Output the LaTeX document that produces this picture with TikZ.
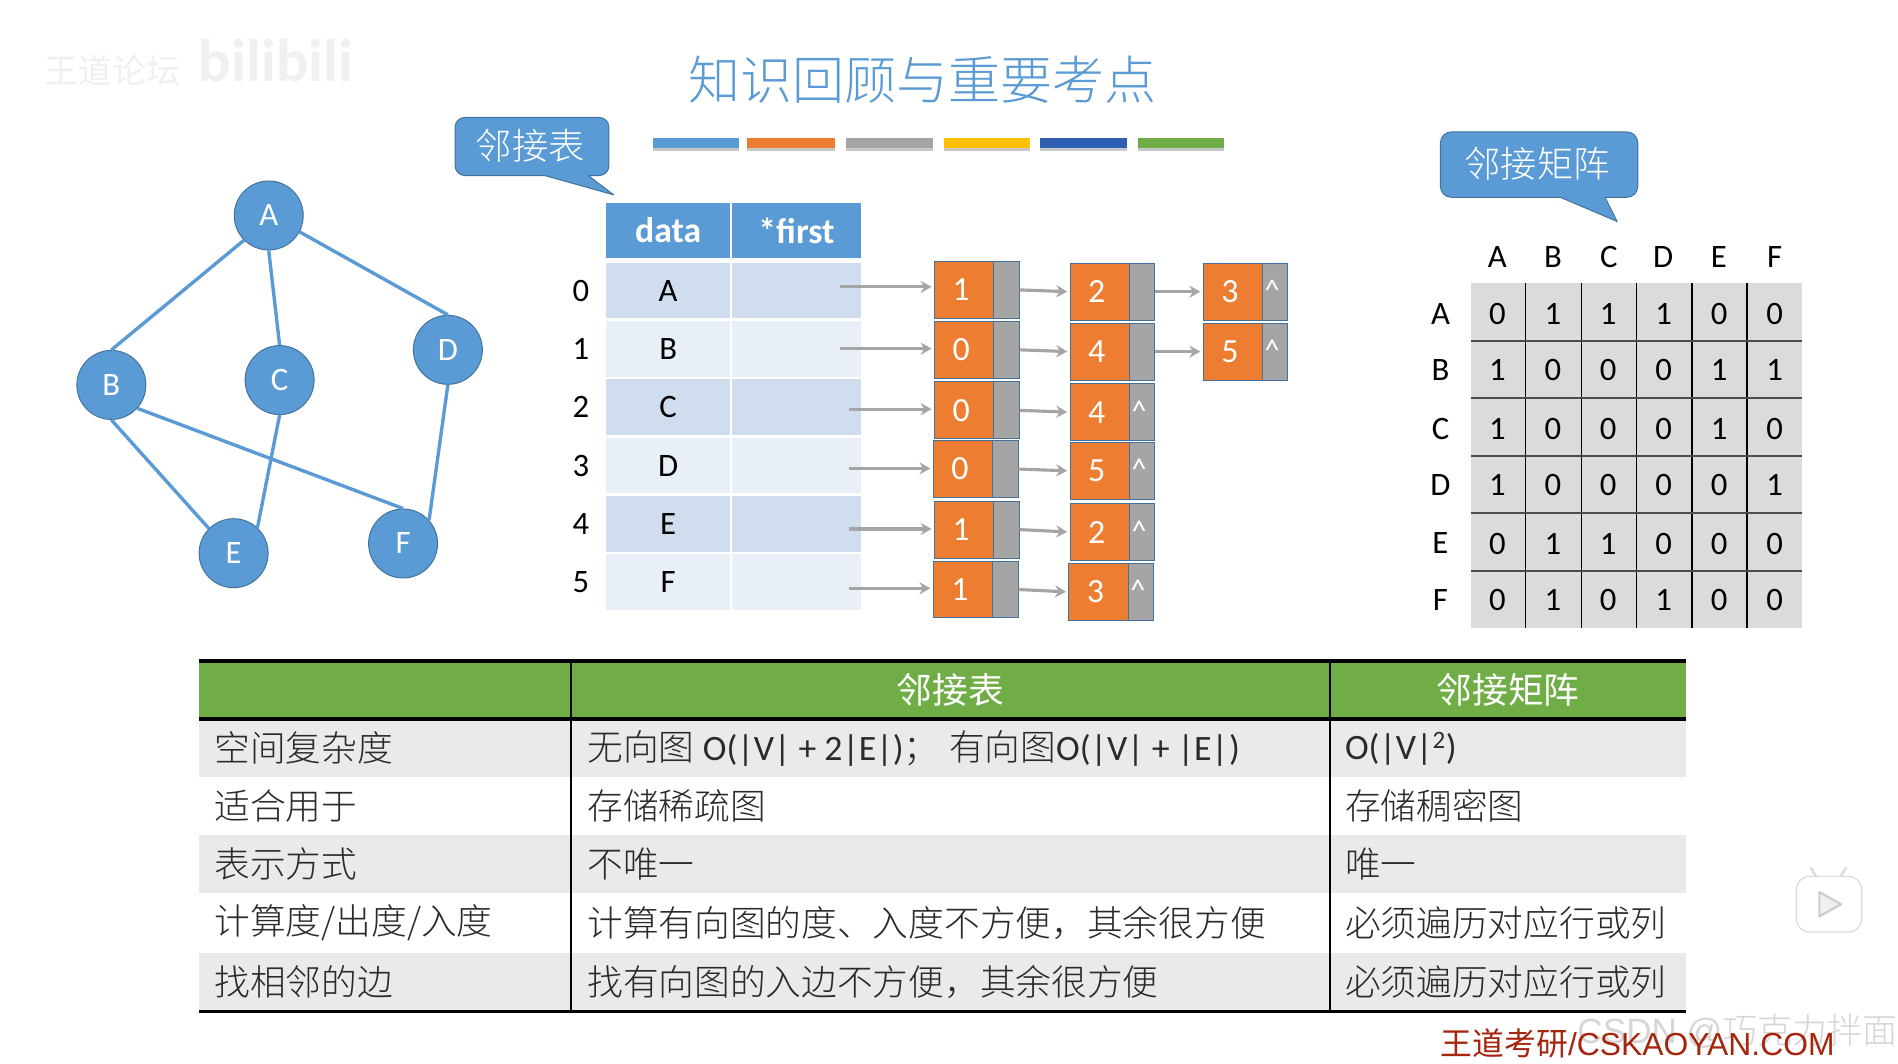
\documentclass[tikz,border=0pt]{standalone}
\usepackage{fontspec}
\usetikzlibrary{arrows.meta,calc}
\setmainfont{Carlito}
\newfontfamily\cjk{Noto Sans CJK SC}[Scale=1]
\newfontfamily\cjkl{Noto Sans CJK SC Light}
\newfontfamily\arialf{Liberation Sans}
\definecolor{tblue}{HTML}{5B9BD5}
\definecolor{tedge}{HTML}{41719C}
\definecolor{torange}{HTML}{ED7D31}
\definecolor{tgray}{HTML}{A5A5A5}
\definecolor{tgreen}{HTML}{70AD47}
\definecolor{rowa}{HTML}{CFDDEE}
\definecolor{rowb}{HTML}{E9EFF7}
\definecolor{mcell}{HTML}{DBDBDB}
\definecolor{stripe}{HTML}{EAEAEA}
\definecolor{ink}{HTML}{2A2A2A}
\definecolor{foot}{HTML}{A6250F}
\definecolor{tyellow}{HTML}{FFC000}
\definecolor{tbar}{HTML}{2F5FB3}
\tikzset{
  x=1pt,y=-1pt,
  fs/.style={font=\fontsize{#1}{#1}\selectfont},
  vertex/.style={circle,fill=tblue,draw=tedge,line width=.8pt,minimum size=57pt,inner sep=0pt,text=white,fs=27},
  gedge/.style={draw=tblue,line width=2.8pt},
  callout/.style={fill=tblue,draw=tedge,line width=.8pt,line join=round},
  calltext/.style={text=white,fs=30,font=\fontsize{30}{30}\selectfont\cjkl},
  headcell/.style={fill=tblue,text=white,minimum height=45pt,inner sep=0pt,font=\fontsize{29.5}{29.5}\selectfont\bfseries},
  datacell/.style={minimum height=46pt,inner sep=0pt,text=black,fs=27},
  plainlabel/.style={text=black,fs=27,inner sep=0pt},
  orangecell/.style={fill=torange,draw=tedge,line width=.8pt,minimum width=49pt,minimum height=47pt,inner sep=0pt,text=white,fs=28},
  graycell/.style={fill=tgray,draw=tedge,line width=.8pt,minimum width=21pt,minimum height=47pt,inner sep=0pt,text=white,fs=25},
  ptr/.style={draw=tgray,line width=2.6pt,-{Stealth[length=9pt,width=10pt]},shorten >=2pt},
  bar/.style={minimum height=8pt,inner sep=0pt},
  mval/.style={text=black,fs=27,inner sep=0pt},
  ttext/.style={anchor=west,text=ink,inner sep=0pt,font=\fontsize{29.5}{29.5}\selectfont\cjkl},
  thead/.style={text=white,inner sep=0pt,font=\fontsize{29.5}{29.5}\selectfont\cjk},
}
\newcommand\lnode[5]{%
  \node[orangecell] (#1o) at ({#2+24.5},#3) {\hspace*{-5pt}#4};
  \node[graycell] (#1g) at ({#2+59.5},#3) {#5};}
\newcommand\hatmark{\hspace*{-5pt}\raisebox{2pt}{\textasciicircum}}
\begin{document}
\begin{tikzpicture}
\useasboundingbox (0,0) rectangle (1568,879);
\fill[white] (0,0) rectangle (1568,879);

% faint platform marks
\node[text=black!6,font=\fontsize{28}{28}\selectfont\cjk,inner sep=0pt] (wm1) at (93,58) {王道论坛};
\node[text=black!6,font=\fontsize{50}{50}\selectfont\bfseries,inner sep=0pt] (wm2) at (228,50) {bilibili};

% title and colour bars
\node[text=tblue,font=\fontsize{43}{43}\selectfont\cjkl,inner sep=0pt] (title) at (762,66) {知识回顾与重要考点};
\foreach \na/\xa/\wa/\col in {b1/575/71/tblue,b2/653.5/73/torange,b3/734.5/72/tgray,b4/815/71/tyellow,b5/895/72/tbar,b6/976/71/tgreen}{
  \fill[black!22] ({\xa-\wa/2},120) rectangle ({\xa+\wa/2},124.5);
  \node[bar,fill=\col,minimum width=\wa pt] (\na) at (\xa,118) {};
}

% graph
\node[vertex] (A) at (222,178) {A};
\node[vertex] (B) at (92,318) {B};
\node[vertex] (C) at (231,314) {C};
\node[vertex] (D) at (370,289) {D};
\node[vertex] (E) at (193,457) {E};
\node[vertex] (F) at (333,449) {F};
\draw[gedge] (A.225)--(B.north);
\draw[gedge] (A.south)--(C.north);
\draw[gedge] (A.-28)--(D.north);
\draw[gedge] (B.south)--(E.135);
\draw[gedge] (B.-42)--(F.north);
\draw[gedge] (C.south)--(E.47);
\draw[gedge] (D.south)--(F.42);

% callouts
\draw[callout] (384,97) -- (495,97) to[out=0,in=90] (503,105) -- (503,137) to[out=-90,in=0] (495,145) -- (486,145) -- (507,161) -- (450,145) -- (384,145) to[out=180,in=-90] (376,137) -- (376,105) to[out=90,in=180] cycle;
\node[calltext] (ct1) at (438,120) {邻接表};
\draw[callout] (1199,109) -- (1344,109) to[out=0,in=90] (1353,118) -- (1353,154) to[out=-90,in=0] (1344,163) -- (1326,163) -- (1336,183) -- (1289,163) -- (1199,163) to[out=180,in=-90] (1190,154) -- (1190,118) to[out=90,in=180] cycle;
\node[calltext] (ct2) at (1270,135) {邻接矩阵};

% vertex table
\node[headcell,minimum width=102pt] (hd) at (552,190.5) {data};
\node[headcell,minimum width=106pt] (hf) at (658,190.5) {*first};
\foreach \i/\yy/\lab/\col in {0/240/A/rowa,1/288.2/B/rowb,2/336.4/C/rowa,3/384.6/D/rowb,4/432.8/E/rowa,5/481/F/rowb}{
  \node[plainlabel] (idx\i) at (480,\yy) {\i};
  \node[datacell,fill=\col,minimum width=102pt] (d\i) at (552,\yy) {\lab};
  \node[datacell,fill=\col,minimum width=106pt] (f\i) at (658,\yy) {};
}

% edge lists
\lnode{p0}{772}{239.5}{1}{}
\lnode{p1}{772}{289}{0}{}
\lnode{p2}{772}{339}{0}{}
\lnode{p3}{771}{387.5}{0}{}
\lnode{p4}{772}{437.5}{1}{}
\lnode{p5}{771}{487}{1}{}
\lnode{q0}{884}{241}{2}{}
\lnode{q1}{884}{290.5}{4}{}
\lnode{q2}{884}{340.5}{4}{\hatmark}
\lnode{q3}{884}{389}{5}{\hatmark}
\lnode{q4}{884}{439.5}{2}{\hatmark}
\lnode{q5}{883}{489}{3}{\hatmark}
\lnode{r0}{994}{241}{3}{\hatmark}
\lnode{r1}{994}{290.5}{5}{\hatmark}

\coordinate (s0) at (694,237);
\coordinate (s1) at (694,288);
\coordinate (s2) at (701,338);
\coordinate (s3) at (701,387);
\coordinate (s4) at (701,437);
\coordinate (s5) at (701,486);
\foreach \i in {0,...,5}{
  \draw[ptr] (s\i) -- (s\i -| p\i o.west);
  \draw[ptr] (p\i g.east) -- (q\i o.west);
}
\draw[ptr] (q0g.east) -- (r0o.west);
\draw[ptr] (q1g.east) -- (r1o.west);

% adjacency matrix
\node[fill=mcell,minimum width=274pt,minimum height=285pt,inner sep=0pt] (mat) at (1352,376.5) {};
\foreach \j/\xx/\lab in {0/1237/A,1/1283/B,2/1329/C,3/1374/D,4/1420/E,5/1466/F}{
  \node[mval] (mc\j) at (\xx,212) {\lab};
}
\foreach \i/\yy/\lab in {0/259/A,1/306/B,2/354/C,3/401/D,4/449/E,5/496/F}{
  \node[mval] (mr\i) at (1190,\yy) {\lab};
}
\foreach \xx in {1260.5,1306.3,1352,1397.7,1443.3}{
  \draw[black,line width=1.1pt] (\xx,234) -- (\xx,519);
}
\foreach \yy in {281.5,329,376.5,424,471.5}{
  \draw[black!70,line width=1.8pt] (1215,\yy) -- (1489,\yy);
}
\foreach \i/\yy/\vals in {0/259/{0,1,1,1,0,0},1/306/{1,0,0,0,1,1},2/354/{1,0,0,0,1,0},3/401/{1,0,0,0,0,1},4/449/{0,1,1,0,0,0},5/496/{0,1,0,1,0,0}}{
  \foreach \v [count=\k from 0] in \vals {
    \pgfmathsetmacro\xx{1237+45.8*\k}
    \node[mval] (m\i\k) at (\xx,\yy) {\v};
  }
}

% comparison table
\fill[tgreen] (164,546) rectangle (1393,594);
\fill[stripe] (164,594) rectangle (1393,642);
\fill[stripe] (164,690) rectangle (1393,738);
\fill[stripe] (164,787) rectangle (1393,835);
\draw[black,line width=3pt] (164,546) -- (1393,546);
\draw[black,line width=2.6pt] (164,594) -- (1393,594);
\draw[black,line width=3pt] (164,835.5) -- (1393,835.5);
\draw[black,line width=1.6pt] (471.5,546) -- (471.5,835);
\draw[black,line width=1.6pt] (1098.5,546) -- (1098.5,835);
\node[thead] (th1) at (785,570) {邻接表};
\node[thead] (th2) at (1246,570) {邻接矩阵};
\node[ttext] (a1) at (177,618) {空间复杂度};
\node[ttext] (a2) at (177,666) {适合用于};
\node[ttext] (a3) at (177,714) {表示方式};
\node[ttext] (a4) at (177,762.5) {计算度/出度/入度};
\node[ttext] (a5) at (177,811) {找相邻的边};
\node[ttext] (b1t) at (485,618) {无向图\hspace{7pt}{\rmfamily O(|V| + 2|E|)}；\hspace{8pt}有向图{\rmfamily O(|V| + |E|\hspace{1pt})}};
\node[ttext] (b2t) at (485,666) {存储稀疏图};
\node[ttext] (b3t) at (485,714) {不唯一};
\node[ttext] (b4t) at (485,762.5) {计算有向图的度、入度不方便，其余很方便};
\node[ttext] (b5t) at (485,811) {找有向图的入边不方便，其余很方便};
\node[ttext] (c1) at (1111,619) {\rmfamily O(|V|\textsuperscript{2})};
\node[ttext] (c2) at (1111,666) {存储稠密图};
\node[ttext] (c3) at (1111,714) {唯一};
\node[ttext] (c4) at (1111,762.5) {必须遍历对应行或列};
\node[ttext] (c5) at (1111,811) {必须遍历对应行或列};

% footer marks
\node[text=black!16,anchor=west,inner sep=0pt,font=\fontsize{29}{29}\selectfont\arialf] (wm3) at (1303,852) {CSDN @{\cjkl 巧克力拌面}};
\node[text=foot,anchor=west,inner sep=0pt,font=\fontsize{26.3}{26.3}\selectfont\arialf] (foot) at (1190,862) {{\cjk 王道考研}/CSKAOYAN.COM};

% play badge
\draw[black!14,line width=2pt,line cap=round] (1501,725) -- (1496,717);
\draw[black!14,line width=2pt,line cap=round] (1520,725) -- (1525,717);
\draw[black!14,fill=white,line width=1pt,rounded corners=11pt] (1484,724) rectangle (1538,770);
\draw[black!20,fill=black!6,line width=1.8pt,line join=round] (1503,737) -- (1521,747) -- (1503,757) -- cycle;
\end{tikzpicture}
\end{document}
